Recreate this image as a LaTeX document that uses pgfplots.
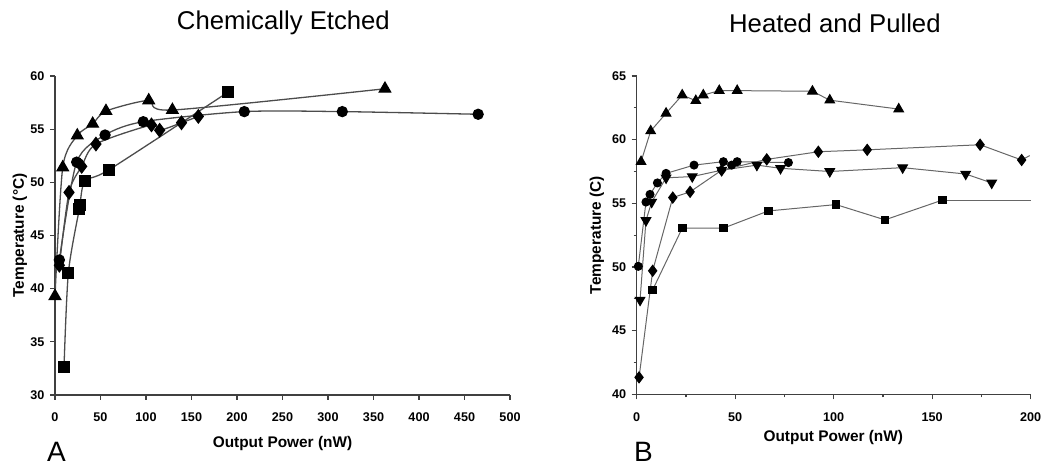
\documentclass[border=0pt]{standalone}
\usepackage{pgfplots}
\pgfplotsset{compat=1.18}
\usepackage{fontspec}
\setmainfont{Liberation Sans}

\newcommand{\tickfont}{\bfseries\fontsize{12.6bp}{14bp}\selectfont}
\newcommand{\labfont}{\bfseries\fontsize{15.4bp}{18bp}\selectfont}
\newcommand{\titfont}{\fontsize{25.7bp}{30bp}\selectfont}

\pgfplotsset{
    panel/.style={
        scale only axis,
        axis x line=bottom, axis y line=left,
        axis line style={-, draw=black!75, line width=1.4bp},
        tick align=outside,
        major tick length=5bp, minor tick length=3bp,
        every tick/.style={draw=black!75, line width=1.2bp},
        tick label style={font=\tickfont},
        /pgf/number format/assume math mode=true,
        xticklabel style={anchor=base, yshift=-22bp},
        yticklabel style={anchor=east, xshift=-2bp},
        label style={font=\labfont},
        title style={font=\titfont, anchor=base},
        clip=false,
    },
    lft/.style={smooth, tension=0.45, draw=black!70, line width=1.3bp,
        mark options={fill=black, draw=black, solid}},
    rgt/.style={draw=black!60, line width=1bp,
        mark options={fill=black, draw=black, solid}},
}

\begin{document}
\begin{tikzpicture}[x=1bp, y=1bp]
\useasboundingbox (0,0) rectangle (1043,468);

% A: chemically etched
\begin{axis}[panel,
    at={(55bp,73bp)}, anchor=south west,
    width=455bp, height=319bp,
    xmin=0, xmax=500, ymin=30, ymax=60,
    xtick={0,50,...,500}, ytick={30,35,...,60},
    title={Chemically Etched},
    title style={at={(axis description cs:0.502,1.1285)}},
    xlabel={Output Power (nW)},
    xlabel style={at={(axis description cs:0.5,-0.166)}, anchor=base},
    ylabel={Temperature (°C)},
    ylabel style={at={(axis description cs:-0.077,0.5)}, anchor=center},
]
\addplot[lft, mark=triangle*, mark size=6.5bp] coordinates {
    (0,39.3) (8.5,51.4) (24.5,54.4) (41.4,55.5) (56,56.7) (103,57.7) (129,56.8) (362.6,58.8)};
\addplot[lft, mark=*, mark size=5bp] coordinates {
    (4.8,42.7) (23.8,51.9) (55,54.45) (97,55.7) (208,56.65) (315.7,56.65) (465,56.4)};
\addplot[lft, mark=diamond*, mark size=6.5bp] coordinates {
    (4.8,42.2) (15.4,49.05) (29.3,51.5) (45,53.6) (106,55.4) (115,54.9) (139,55.6) (157.5,56.2)};
\addplot[lft, mark=square*, mark size=5.3bp] coordinates {
    (9.9,32.6) (14.7,41.5) (26.7,47.5) (27.5,47.9) (33,50.15) (59.7,51.2) (190.5,58.5)};
\end{axis}

% B: heated and pulled
\begin{axis}[panel,
    at={(636.7bp,73.7bp)}, anchor=south west,
    width=394bp, height=318.3bp,
    xmin=0, xmax=200, ymin=40, ymax=65,
    xtick={0,50,...,200}, ytick={40,45,...,65},
    minor xtick={25,75,125,175}, minor ytick={42.5,47.5,...,62.5},
    title={Heated and Pulled},
    title style={at={(axis description cs:0.503,1.1184)}},
    xlabel={Output Power (nW)},
    xlabel style={at={(axis description cs:0.499,-0.149)}, anchor=base},
    ylabel={Temperature (C)},
    ylabel style={at={(axis description cs:-0.101,0.5)}, anchor=center},
]
\addplot[rgt, mark=triangle*, mark size=5.5bp] coordinates {
    (2.2,58.27) (7.1,60.68) (14.9,62.07) (23.1,63.5) (30,63.06) (33.8,63.5)
    (41.9,63.85) (51,63.85) (89.2,63.8) (98,63.1) (133,62.4)};
\addplot[rgt, mark=*, mark size=4bp] coordinates {
    (0.8,50.05) (4.7,55.1) (6.75,55.7) (10.5,56.6) (14.9,57.35) (29.1,58.0)
    (44,58.27) (48.2,58.0) (51,58.27) (77,58.2)};
\addplot[rgt, mark=triangle*, mark size=5.5bp,
    mark options={fill=black, draw=black, solid, rotate=180}] coordinates {
    (1.7,47.4) (4.7,53.65) (7.6,55.1) (14.9,57.0) (28.2,57.1) (43.1,57.6)
    (61,58.0) (73,57.75) (98,57.5) (135,57.8) (167,57.3) (180.2,56.6)};
\addplot[rgt, mark=diamond*, mark size=5.5bp] coordinates {
    (1.2,41.33) (8.1,49.7) (18.3,55.45) (27.1,55.9) (43.1,57.6) (66,58.45)
    (92.2,59.05) (117,59.2) (174.3,59.6) (195.4,58.4)};
\addplot[rgt, no marks] coordinates {(195.4,58.4) (199.5,58.75)};
\addplot[rgt, mark=square*, mark size=3.8bp] coordinates {
    (8.1,48.2) (23.1,53.05) (44,53.05) (66.8,54.4) (101.2,54.9) (126,53.7) (155.1,55.25)};
\addplot[rgt, no marks] coordinates {(155.1,55.25) (200,55.25)};
\end{axis}

\node[anchor=base west, inner sep=0, font=\fontsize{28bp}{32bp}\selectfont] at (47,6) {A};
\node[anchor=base west, inner sep=0, font=\fontsize{28bp}{32bp}\selectfont] at (634,6) {B};
\end{tikzpicture}
\end{document}
